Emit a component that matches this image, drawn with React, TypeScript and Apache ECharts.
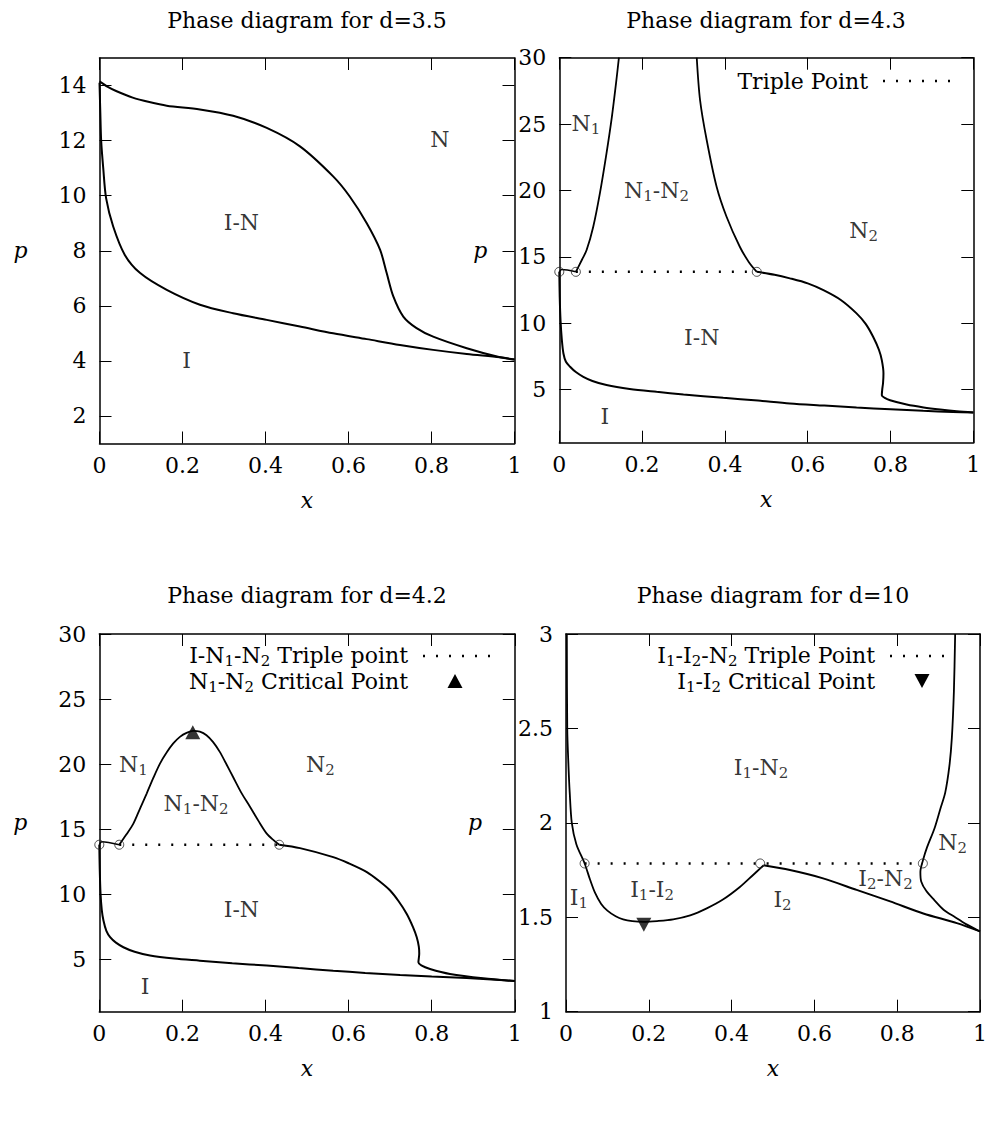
import React, { useEffect, useRef } from 'react';
import * as echarts from 'echarts';

const FONT = 'DejaVu Serif';
const FS = 22;
const SUB = 15;
const INK = '#000';

// ---------- tick values ----------
const xTickInterval = 0.2;
const d35YTicks = [2, 4, 6, 8, 10, 12, 14];
const d43YTicks = [5, 10, 15, 20, 25, 30];
const d42YTicks = [5, 10, 15, 20, 25, 30];
const d10YTicks = [1, 1.5, 2, 2.5, 3];

// ---------- titles ----------
const titles = ['Phase diagram for d=3.5', 'Phase diagram for d=4.3', 'Phase diagram for d=4.2', 'Phase diagram for d=10'];

// ---------- d = 3.5 ----------
const d35Upper: number[][] = [
  [0, 14.15], [0.02, 13.95], [0.04, 13.8], [0.08, 13.56], [0.12, 13.4], [0.162, 13.27], [0.242, 13.13],
  [0.322, 12.9], [0.403, 12.46], [0.483, 11.79], [0.563, 10.7], [0.603, 9.97], [0.644, 9.0], [0.676, 8.04],
  [0.692, 7.19], [0.708, 6.34], [0.732, 5.61], [0.764, 5.19], [0.804, 4.88], [0.885, 4.46], [0.965, 4.13], [1, 4.05],
];
const d35Lower: number[][] = [
  [0, 14.1], [0.002, 13.0], [0.004, 12.0], [0.009, 11.0], [0.016, 9.9], [0.033, 8.88], [0.061, 7.85],
  [0.098, 7.19], [0.162, 6.58], [0.242, 6.04], [0.322, 5.73], [0.403, 5.49], [0.483, 5.25], [0.563, 5.0],
  [0.644, 4.79], [0.724, 4.58], [0.804, 4.4], [0.885, 4.25], [0.965, 4.13], [1, 4.05],
];
const d35Labels = [
  { x: 0.82, p: 12.04, t: '{n|N}' },
  { x: 0.342, p: 9.03, t: '{n|I-N}' },
  { x: 0.21, p: 4.01, t: '{n|I}' },
];

// ---------- d = 4.3 ----------
const d43Lower: number[][] = [
  [0, 13.87], [0.001, 12], [0.003, 10.2], [0.006, 8.8], [0.01, 7.72], [0.016, 7.1], [0.026, 6.72], [0.04, 6.32],
  [0.058, 5.96], [0.08, 5.65], [0.114, 5.34], [0.17, 5.05], [0.235, 4.83], [0.3, 4.63], [0.396, 4.38],
  [0.48, 4.17], [0.557, 3.96], [0.64, 3.8], [0.718, 3.65], [0.8, 3.52], [0.879, 3.4], [0.95, 3.32], [1, 3.28],
];
const d43Link: number[][] = [[0, 13.87], [0.006, 14.05], [0.04, 13.87]];
const d43IN: number[][] = [
  [0.477, 13.87], [0.52, 13.65], [0.557, 13.38], [0.6, 13.0], [0.638, 12.49], [0.68, 11.75], [0.718, 10.74],
  [0.74, 9.95], [0.758, 8.98], [0.772, 8.0], [0.779, 7.22], [0.783, 6.22], [0.782, 5.5], [0.78, 5.0],
  [0.779, 4.58], [0.785, 4.4], [0.799, 4.2], [0.839, 3.88], [0.88, 3.66], [0.92, 3.5], [0.96, 3.37], [1, 3.28],
];
const d43N1: number[][] = [
  [0.04, 13.87], [0.055, 14.8], [0.066, 15.51], [0.082, 17.27], [0.098, 19.78], [0.114, 22.8],
  [0.127, 25.55], [0.137, 28.07], [0.144, 30],
];
const d43N2: number[][] = [
  [0.332, 30], [0.34, 26.81], [0.356, 23.8], [0.38, 20.28], [0.404, 18.02], [0.436, 15.76], [0.458, 14.6], [0.477, 13.87],
];
const d43Triple: number[][] = [[0.04, 13.87], [0.477, 13.87]];
const d43TriplePts: number[][] = [[0, 13.87], [0.04, 13.87], [0.477, 13.87]];
const d43Labels = [
  { x: 0.064, p: 25.06, t: '{n|N}{s|1}' },
  { x: 0.235, p: 19.98, t: '{n|N}{s|1}{n|-N}{s|2}' },
  { x: 0.735, p: 17.0, t: '{n|N}{s|2}' },
  { x: 0.344, p: 8.93, t: '{n|I-N}' },
  { x: 0.11, p: 2.95, t: '{n|I}' },
];

// ---------- d = 4.2 ----------
const d42Lower: number[][] = [
  [0, 13.82], [0.001, 12], [0.003, 10.05], [0.006, 8.8], [0.01, 8.0], [0.017, 7.2], [0.026, 6.72], [0.04, 6.3],
  [0.058, 5.95], [0.085, 5.6], [0.122, 5.31], [0.18, 5.08], [0.242, 4.92], [0.32, 4.72], [0.403, 4.54],
  [0.48, 4.35], [0.563, 4.15], [0.64, 3.98], [0.724, 3.82], [0.8, 3.7], [0.884, 3.59], [0.964, 3.44], [1, 3.35],
];
const d42Link: number[][] = [[0, 13.82], [0.006, 14.05], [0.048, 13.82]];
const d42IN: number[][] = [
  [0.433, 13.82], [0.483, 13.56], [0.563, 12.87], [0.6, 12.4], [0.644, 11.72], [0.675, 11.0], [0.7, 10.31],
  [0.72, 9.5], [0.74, 8.51], [0.755, 7.5], [0.764, 6.72], [0.769, 6.0], [0.77, 5.44], [0.768, 4.79],
  [0.775, 4.55], [0.796, 4.28], [0.844, 3.9], [0.924, 3.56], [1, 3.35],
];
const d42Dome: number[][] = [
  [0.048, 13.82], [0.065, 14.6], [0.082, 15.44], [0.098, 16.6], [0.114, 17.75], [0.13, 18.95], [0.146, 20.05],
  [0.162, 20.9], [0.178, 21.6], [0.194, 22.1], [0.21, 22.41], [0.226, 22.56], [0.242, 22.5], [0.258, 22.23],
  [0.274, 21.7], [0.29, 20.95], [0.306, 20.0], [0.322, 19.02], [0.342, 17.8], [0.363, 16.72], [0.383, 15.65],
  [0.403, 14.67], [0.42, 14.15], [0.433, 13.82],
];
const d42Triple: number[][] = [[0.048, 13.82], [0.433, 13.82]];
const d42TriplePts: number[][] = [[0, 13.82], [0.048, 13.82], [0.433, 13.82]];
const d42Critical: number[][] = [[0.225, 22.45]];
const d42Labels = [
  { x: 0.082, p: 20.0, t: '{n|N}{s|1}' },
  { x: 0.532, p: 20.0, t: '{n|N}{s|2}' },
  { x: 0.233, p: 16.97, t: '{n|N}{s|1}{n|-N}{s|2}' },
  { x: 0.342, p: 8.82, t: '{n|I-N}' },
  { x: 0.11, p: 2.92, t: '{n|I}' },
];

// ---------- d = 10 ----------
const d10Left: number[][] = [
  [0.002, 3], [0.003, 2.5], [0.006, 2.3], [0.009, 2.16], [0.014, 2.0], [0.025, 1.887], [0.045, 1.785],
  [0.058, 1.7], [0.07, 1.63], [0.085, 1.57], [0.1, 1.535], [0.12, 1.505], [0.138, 1.489], [0.16, 1.48],
  [0.187, 1.476], [0.22, 1.48], [0.259, 1.489], [0.3, 1.51], [0.34, 1.547], [0.38, 1.595], [0.42, 1.66],
  [0.45, 1.72], [0.477, 1.775],
];
const d10Right: number[][] = [
  [0.477, 1.775], [0.541, 1.75], [0.621, 1.706], [0.702, 1.645], [0.783, 1.584], [0.863, 1.52], [0.944, 1.469], [1, 1.425],
];
const d10N2: number[][] = [
  [0.94, 3], [0.937, 2.7], [0.932, 2.45], [0.926, 2.3], [0.916, 2.16], [0.905, 2.08], [0.89, 1.97],
  [0.872, 1.87], [0.862, 1.8], [0.856, 1.74], [0.858, 1.69], [0.87, 1.64], [0.89, 1.59], [0.912, 1.54],
  [0.94, 1.5], [0.965, 1.465], [1, 1.425],
];
const d10Triple: number[][] = [[0.045, 1.785], [0.862, 1.785]];
const d10TriplePts: number[][] = [[0.045, 1.785], [0.469, 1.785], [0.862, 1.785]];
const d10Critical: number[][] = [[0.188, 1.46]];
const d10Labels = [
  { x: 0.471, p: 2.294, t: '{n|I}{s|1}{n|-N}{s|2}' },
  { x: 0.934, p: 1.895, t: '{n|N}{s|2}' },
  { x: 0.772, p: 1.706, t: '{n|I}{s|2}{n|-N}{s|2}' },
  { x: 0.208, p: 1.648, t: '{n|I}{s|1}{n|-I}{s|2}' },
  { x: 0.031, p: 1.605, t: '{n|I}{s|1}' },
  { x: 0.523, p: 1.595, t: '{n|I}{s|2}' },
];

const rich = {
  n: { fontFamily: FONT, fontSize: FS, color: INK },
  s: { fontFamily: FONT, fontSize: SUB, color: INK, padding: [11, 0, 0, 0] },
};

// layout
const grids = [
  { left: 99.5, top: 58, width: 415, height: 385.5 },
  { left: 559.3, top: 57.7, width: 414, height: 385 },
  { left: 99.3, top: 634, width: 415.5, height: 377.7 },
  { left: 566, top: 634, width: 414, height: 377.7 },
];
const yRanges = [
  { min: 1, max: 15, ticks: d35YTicks, gap: 72 },
  { min: 1, max: 30, ticks: d43YTicks, gap: 72 },
  { min: 1, max: 30, ticks: d42YTicks, gap: 72 },
  { min: 1, max: 3, ticks: d10YTicks, gap: 84 },
];

const lineC = { color: '#000', width: 1.5 };
const tickC = { color: '#000', width: 1 };

function buildOption() {
  const xAxis: any[] = [];
  const yAxis: any[] = [];
  grids.forEach((g, i) => {
    const yr = yRanges[i];
    xAxis.push({
      gridIndex: i, type: 'value', min: 0, max: 1, interval: xTickInterval, position: 'bottom',
      axisLine: { show: true, onZero: false, lineStyle: lineC },
      axisTick: { show: true, inside: true, length: 12, lineStyle: tickC },
      axisLabel: { show: true, margin: 11, fontFamily: FONT, fontSize: FS, color: INK },
      splitLine: { show: false },
      name: 'x', nameLocation: 'middle', nameGap: 46,
      nameTextStyle: { fontFamily: FONT, fontStyle: 'italic', fontSize: FS, color: INK },
    });
    xAxis.push({
      gridIndex: i, type: 'value', min: 0, max: 1, interval: xTickInterval, position: 'top',
      axisLine: { show: true, onZero: false, lineStyle: lineC },
      axisTick: { show: true, inside: true, length: 12, lineStyle: tickC },
      axisLabel: { show: false }, splitLine: { show: false },
    });
    yAxis.push({
      gridIndex: i, type: 'value', min: yr.min, max: yr.max, position: 'left',
      axisLine: { show: true, onZero: false, lineStyle: lineC },
      axisTick: { show: true, inside: true, length: 12, lineStyle: tickC, customValues: yr.ticks },
      axisLabel: { show: true, margin: 13, fontFamily: FONT, fontSize: FS, color: INK, customValues: yr.ticks },
      splitLine: { show: false },
      name: 'p', nameLocation: 'middle', nameRotate: 0, nameGap: yr.gap,
      nameTextStyle: { fontFamily: FONT, fontStyle: 'italic', fontSize: FS, color: INK },
    });
    yAxis.push({
      gridIndex: i, type: 'value', min: yr.min, max: yr.max, position: 'right',
      axisLine: { show: true, onZero: false, lineStyle: lineC },
      axisTick: { show: true, inside: true, length: 12, lineStyle: tickC, customValues: yr.ticks },
      axisLabel: { show: false, customValues: yr.ticks }, splitLine: { show: false },
    });
  });

  const series: any[] = [];
  const curve = (data: number[][], gi: number, width = 2) => series.push({
    type: 'line', xAxisIndex: gi * 2, yAxisIndex: gi * 2, data, symbol: 'none', showSymbol: false,
    smooth: 0.3, lineStyle: { color: '#000', width }, silent: true, z: 3,
  });
  const triple = (data: number[][], gi: number) => series.push({
    type: 'line', xAxisIndex: gi * 2, yAxisIndex: gi * 2, data, symbol: 'none', showSymbol: false,
    lineStyle: { color: '#000', width: 2.5, type: [2, 11], cap: 'butt' }, silent: true, z: 2,
  });
  const circles = (data: number[][], gi: number) => series.push({
    type: 'scatter', xAxisIndex: gi * 2, yAxisIndex: gi * 2, data, symbol: 'circle', symbolSize: 9,
    itemStyle: { color: 'rgba(0,0,0,0)', borderColor: '#222', borderWidth: 1 }, silent: true, z: 4,
  });
  const crit = (data: number[][], gi: number, rot: number) => series.push({
    type: 'scatter', xAxisIndex: gi * 2, yAxisIndex: gi * 2, data, symbol: 'triangle', symbolSize: [15, 14],
    symbolRotate: rot, itemStyle: { color: '#000' }, silent: true, z: 5,
  });
  const labels = (items: { x: number; p: number; t: string }[], gi: number) => series.push({
    type: 'scatter', xAxisIndex: gi * 2, yAxisIndex: gi * 2, symbolSize: 1, itemStyle: { color: 'rgba(0,0,0,0)' },
    silent: true, z: 6,
    label: { show: true, position: 'inside', rich, color: INK },
    data: items.map((it) => ({ value: [it.x, it.p], label: { formatter: it.t } })),
  });

  curve(d35Upper, 0); curve(d35Lower, 0); labels(d35Labels, 0);

  curve(d43Lower, 1); curve(d43Link, 1, 1.5); curve(d43IN, 1); curve(d43N1, 1, 1.8); curve(d43N2, 1, 1.8);
  triple(d43Triple, 1); circles(d43TriplePts, 1); labels(d43Labels, 1);

  curve(d42Lower, 2); curve(d42Link, 2, 1.5); curve(d42IN, 2); curve(d42Dome, 2, 1.8);
  triple(d42Triple, 2); circles(d42TriplePts, 2); crit(d42Critical, 2, 0); labels(d42Labels, 2);

  curve(d10Left, 3, 1.8); curve(d10Right, 3); curve(d10N2, 3, 1.8);
  triple(d10Triple, 3); circles(d10TriplePts, 3); crit(d10Critical, 3, 180); labels(d10Labels, 3);

  const titleText = (t: string, x: number, y: number) => ({
    type: 'text', x, y, silent: true,
    style: { text: t, fontFamily: FONT, fontSize: FS, fill: INK, align: 'center', verticalAlign: 'middle' },
  });
  const legText = (t: string, x: number, y: number) => ({
    type: 'text', x, y, silent: true,
    style: { text: t, rich, align: 'right', verticalAlign: 'middle', fontFamily: FONT, fontSize: FS, fill: INK },
  });
  const dots = (x1: number, x2: number, y: number) => ({
    type: 'line', silent: true, shape: { x1, y1: y, x2, y2: y },
    style: { stroke: '#000', lineWidth: 2.5, lineDash: [2, 11] },
  });
  const tri = (cx: number, cy: number, down: boolean) => ({
    type: 'polygon', silent: true,
    shape: { points: down ? [[cx - 7.5, cy - 7], [cx + 7.5, cy - 7], [cx, cy + 7]] : [[cx, cy - 7], [cx - 7.5, cy + 7], [cx + 7.5, cy + 7]] },
    style: { fill: '#000' },
  });

  const graphic = [
    titleText(titles[0], 307, 20), titleText(titles[1], 766, 20),
    titleText(titles[2], 307, 595), titleText(titles[3], 773, 595),
    legText('{n|Triple Point}', 868, 81), dots(883, 952, 81),
    legText('{n|I-N}{s|1}{n|-N}{s|2}{n| Triple point}', 408, 655), dots(423, 497, 656),
    legText('{n|N}{s|1}{n|-N}{s|2}{n| Critical Point}', 408, 681), tri(455, 681, false),
    legText('{n|I}{s|1}{n|-I}{s|2}{n|-N}{s|2}{n| Triple Point}', 875, 655), dots(890, 955, 656),
    legText('{n|I}{s|1}{n|-I}{s|2}{n| Critical Point}', 875, 681), tri(922, 681, true),
  ];

  return { animation: false, backgroundColor: '#fff', grid: grids.map((g) => ({ ...g, containLabel: false })), xAxis, yAxis, series, graphic };
}

export default function App() {
  const ref = useRef<HTMLDivElement>(null);
  useEffect(() => {
    if (!ref.current) return;
    const chart = echarts.init(ref.current, null, { renderer: 'svg' });
    chart.setOption(buildOption() as any);
    return () => chart.dispose();
  }, []);
  return <div ref={ref} style={{ position: 'absolute', left: 0, top: 0, width: 990, height: 1131 }} />;
}
